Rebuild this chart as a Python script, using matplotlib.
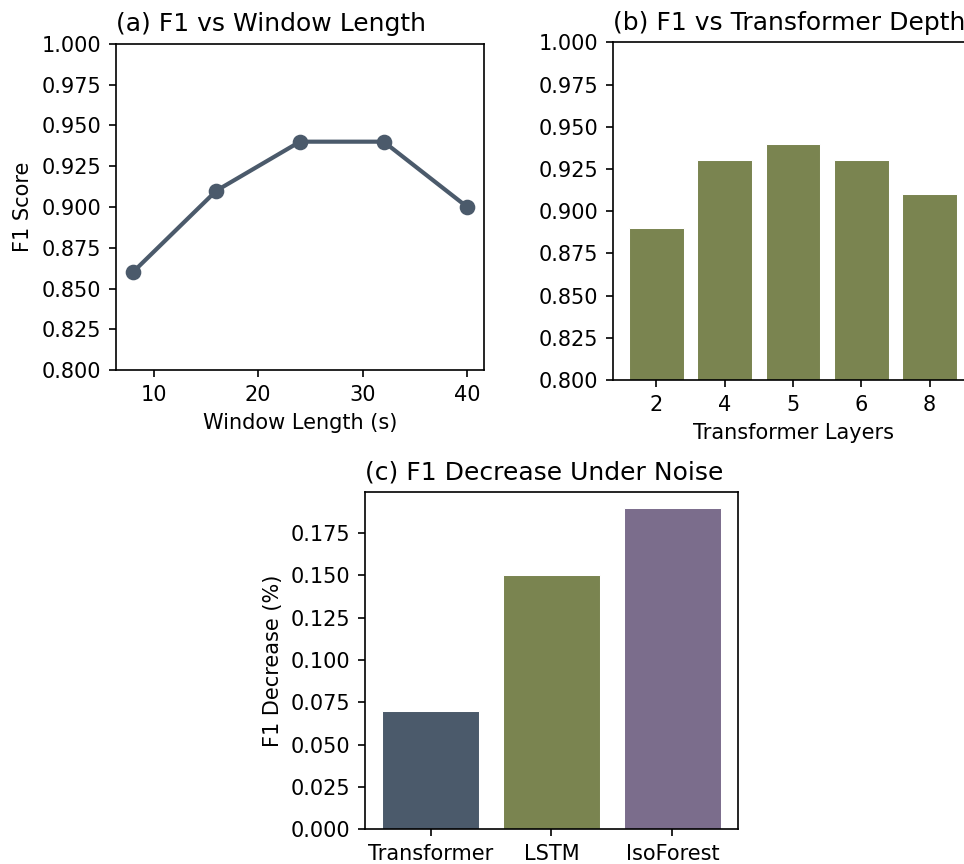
import matplotlib
matplotlib.use("Agg")
import matplotlib.pyplot as plt

# Panel (a): F1 vs window length
window_len = [8, 16, 24, 32, 40]
f1_window = [0.86, 0.91, 0.94, 0.94, 0.90]

# Panel (b): F1 vs transformer depth
layers = ["2", "4", "5", "6", "8"]
f1_depth = [0.89, 0.93, 0.94, 0.93, 0.91]

# Panel (c): F1 decrease under noise
models = ["Transformer", "LSTM", "IsoForest"]
f1_drop = [0.07, 0.15, 0.19]

f1_ticks = [0.8, 0.825, 0.85, 0.875, 0.9, 0.925, 0.95, 0.975, 1.0]
drop_ticks = [0.0, 0.025, 0.05, 0.075, 0.1, 0.125, 0.15, 0.175]

SLATE = "#4B5A6B"
OLIVE = "#7A8450"
PURPLE = "#7B6D8C"

W, H = 964, 864
DPI = 150
fig = plt.figure(figsize=(W / DPI, H / DPI), dpi=DPI)


def box(left, top, right, bottom):
    return [left / W, 1 - bottom / H, (right - left) / W, (bottom - top) / H]


# (a)
ax1 = fig.add_axes(box(116, 43.7, 484, 370.3))
ax1.plot(window_len, f1_window, color=SLATE, lw=2, marker="o", ms=6.5)
ax1.set_ylim(0.8, 1.0)
ax1.set_yticks(f1_ticks)
ax1.set_title("(a) F1 vs Window Length", fontsize=12, loc="left")
ax1.set_xlabel("Window Length (s)")
ax1.set_ylabel("F1 Score")

# (b)
ax2 = fig.add_axes(box(612.7, 42.3, 973.4, 380))
xb = list(range(len(layers)))
ax2.bar(xb, f1_depth, width=0.8, color=OLIVE, edgecolor="white", linewidth=0.5)
ax2.set_xticks(xb)
ax2.set_xticklabels(layers)
ax2.set_xlim(-0.64, 4.64)
ax2.set_ylim(0.8, 1.0)
ax2.set_yticks(f1_ticks)
ax2.set_title("(b) F1 vs Transformer Depth", fontsize=12, loc="left")
ax2.set_xlabel("Transformer Layers")

# (c)
ax3 = fig.add_axes(box(365.3, 491.7, 737.7, 829.3))
xc = list(range(len(models)))
ax3.bar(xc, f1_drop, width=0.8, color=[SLATE, OLIVE, PURPLE],
        edgecolor="white", linewidth=0.5)
ax3.set_xticks(xc)
ax3.set_xticklabels(models)
ax3.set_yticks(drop_ticks)
ax3.set_title("(c) F1 Decrease Under Noise", fontsize=12, loc="left")
ax3.set_ylabel("F1 Decrease (%)")

fig.savefig("out.png", dpi=DPI)
